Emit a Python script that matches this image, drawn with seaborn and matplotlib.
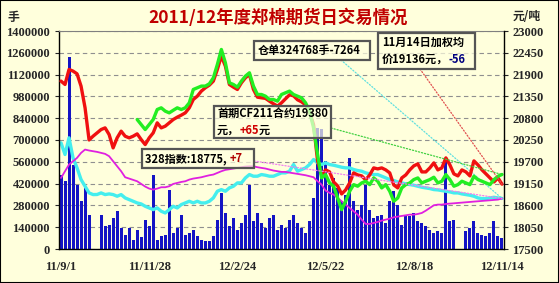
import numpy as np
import pandas as pd
import matplotlib
matplotlib.use("Agg")
import matplotlib.pyplot as plt
import seaborn as sns
from matplotlib.patches import Rectangle
from matplotlib.offsetbox import TextArea, HPacker, VPacker, AnnotationBbox

# ---------------- data ----------------
x_labels = ["11/9/1", "11/11/28", "12/2/24", "12/5/22", "12/8/18", "12/11/14"]

# daily volume (手), left axis
volume = [478, 435, 1233, 542, 414, 307, 392, 221, 0, 0,
          221, 146, 157, 199, 242, 135, 92, 135, 60, 124,
          75, 189, 146, 478, 60, 81, 92, 382, 103, 135,
          221, 92, 103, 124, 81, 60, 49, 49, 81, 189,
          360, 232, 146, 199, 124, 167, 221, 414, 178, 232,
          167, 135, 199, 221, 124, 157, 135, 189, 221, 167,
          135, 103, 178, 328, 778, 768, 564, 414, 457, 392,
          307, 349, 585, 307, 253, 285, 414, 253, 199, 210,
          221, 167, 307, 371, 285, 157, 221, 210, 232, 178,
          167, 146, 124, 103, 114, 103, 564, 178, 189, 0,
          0, 118, 135, 178, 103, 92, 81, 103, 178, 81, 71]
volume = [v * 1000 for v in volume]

# warehouse receipts (仓单, 手), left axis
warrant = [681.8, 606.8, 714.0, 585.3, 521.0, 446.0, 403.0, 360.2, 349.5, 350.0,
           360.2, 349.5, 353.8, 349.5, 338.8, 349.5, 328.0, 317.3, 306.6, 295.9,
           289.4, 274.4, 263.7, 253.0, 263.7, 242.3, 231.6, 253.0, 274.4, 263.7,
           285.2, 295.9, 306.6, 295.9, 306.6, 295.9, 295.9, 306.6, 328.0, 370.9,
           381.6, 370.9, 392.4, 403.0, 424.5, 424.5, 456.7, 478.1, 467.4, 467.4,
           478.1, 473.8, 467.4, 467.4, 478.1, 488.8, 488.8, 499.6, 542.4, 499.6,
           510.3, 521.0, 542.4, 574.6, 553.2, 542.4, 553.2, 542.4, 538.0, 531.7,
           525.3, 521.0, 521.0, 510.3, 503.8, 499.6, 488.8, 482.4, 478.1, 478.1,
           467.4, 456.7, 446.0, 439.5, 431.0, 424.5, 418.1, 413.8, 409.5, 403.0,
           396.6, 392.4, 388.1, 381.6, 379.5, 375.2, 370.9, 366.6, 360.2, 360.2,
           353.8, 349.5, 345.2, 338.8, 328.0, 323.7, 323.7, 328.0, 332.3, 328.0, 324.768]
warrant = [v * 1000 for v in warrant]

# weighted average price (元/吨), right axis
avg_price = [21736, 21651, 22030, 21988, 21920, 21609, 21062, 20250, 20346, 20430,
             20514, 20556, 20388, 20051, 20304, 20473, 20346, 20304, 20346, 20405,
             20261, 20135, 20304, 20430, 20683, 20556, 20599, 20683, 20767, 20826,
             20877, 20935, 21062, 21272, 21356, 21483, 21567, 21634, 21736, 22030,
             22367, 22114, 21651, 21584, 21525, 21693, 21819, 21903, 21525, 21331,
             21314, 21300, 21230, 21163, 21104, 21188, 21289, 21390, 21365, 21264,
             21213, 21137, 20961, 20632, 19723, 19369, 19496, 19445, 19192, 19091,
             18889, 18990, 19167, 19420, 19369, 19344, 19243, 19369, 19546, 19521,
             19546, 19496, 19420, 19117, 19041, 19293, 19369, 19496, 19597, 19647,
             19445, 19445, 19546, 19672, 19496, 19546, 19799, 19622, 19395, 19344,
             19496, 19445, 19344, 19723, 19622, 19496, 19395, 19293, 19192, 19293, 19136]

# main contract price (首期), right axis
main_price = [None] * 19 + [
             20767, 20640, 20514, 20640, 20767, 21019, 21062, 20978, 20935, 21000, 21062,
             21019, 21062, 21188, 21525, 21567, 21610, 21610, 21668, 21819, 22155,
             22534, 22198, 21693, 21651, 21584, 21736, 21862, 21946, 21610, 21398,
             21398, 21356, 21272, 21272, 21230, 21398, 21441, 21483, 21398, 21356,
             21314, 21188, 20978, 20556, 19882, 19293, 19377, 19167, 19084, 18788,
             18493, 18705, 18957, 19124, 19084, 19167, 19210, 19124, 19293, 19210,
             19041, 19124, 18957, 18705, 18788, 19041, 19124, 19167, 19251, 19293,
             19167, 19210, 19251, 19311, 19167, 19210, 19377, 19251, 19084, 19124,
             19210, 19167, 19124, 19336, 19251, 19210, 19167, 19124, 19251, 19336, 19380]

# 328 index, right axis
index328 = [19293, 19462, 19630, 19714, 19799, 19925, 20009, 19985, 19967, 19950,
            19925, 19900, 19841, 19714, 19588, 19462, 19310, 19277, 19243, 19209,
            19142, 19075, 19024, 18999, 19024, 19058, 19058, 19083, 19142, 19167,
            19192, 19209, 19251, 19277, 19293, 19310, 19336, 19360, 19378, 19420,
            19462, 19496, 19512, 19530, 19546, 19563, 19580, 19588, 19588, 19563,
            19546, 19530, 19504, 19479, 19462, 19445, 19445, 19428, 19411, 19395,
            19378, 19361, 19336, 19310, 19209, 19125, 18974, 18915, 18872, 18788,
            18704, 18620, 18536, 18451, 18367, 18241, 18132, 18132, 18157, 18182,
            18216, 18241, 18266, 18300, 18317, 18334, 18350, 18367, 18367, 18384,
            18409, 18468, 18536, 18603, 18620, 18620, 18637, 18645, 18653, 18662,
            18670, 18679, 18687, 18696, 18704, 18713, 18721, 18729, 18738, 18746, 18775]

n = len(volume)
df = pd.DataFrame({
    "idx": np.arange(n),
    "volume": volume,
    "warrant": warrant,
    "avg_price": avg_price,
    "main_price": pd.to_numeric(pd.Series(main_price), errors="coerce"),
    "index328": index328,
})

# ---------------- style ----------------
W, H = 559, 283
BG = "#FFFFDC"
BLUE = "#1414C4"
RED = "#F01010"
GREEN = "#22EE22"
CYAN = "#44EEEE"
MAGENTA = "#E020E0"
CJK = ["Noto Sans CJK SC", "DejaVu Sans"]
NUMFONT = "Liberation Serif"

sns.set_style("white")
plt.rcParams["font.family"] = CJK


def px(x, y):
    return (x / W, 1 - y / H)


fig = plt.figure(figsize=(W / 100, H / 100), dpi=100, facecolor=BG)
ax = fig.add_axes([59 / W, 1 - 249 / H, 445 / W, 218 / H])
ax.set_facecolor(BG)

sns.barplot(data=df, x="idx", y="volume", ax=ax, color=BLUE, saturation=1,
            width=0.75, native_scale=True, errorbar=None, linewidth=0)
sns.lineplot(data=df, x="idx", y="warrant", ax=ax, color=CYAN, linewidth=2.4)

ax2 = ax.twinx()
sns.lineplot(data=df, x="idx", y="index328", ax=ax2, color=MAGENTA, linewidth=1.3)
sns.lineplot(data=df, x="idx", y="avg_price", ax=ax2, color=RED, linewidth=2.4)
sns.lineplot(data=df, x="idx", y="main_price", ax=ax2, color=GREEN, linewidth=2.4)

ax.set_xlim(-0.5, n - 0.5)
ax.set_ylim(0, 1400000)
ax2.set_ylim(17500, 23000)

lt = list(range(0, 1400001, 140000))
ax.set_yticks(lt, labels=[str(v) for v in lt], fontfamily=NUMFONT,
              fontweight="bold", fontsize=9)
rt = list(range(17500, 23001, 550))
ax2.set_yticks(rt, labels=[str(v) for v in rt], fontfamily=NUMFONT,
               fontweight="bold", fontsize=9)
xt = list(np.linspace(0, n - 1, len(x_labels)))
ax.set_xticks(xt, labels=x_labels, fontfamily=NUMFONT, fontweight="bold",
              fontsize=9)

ax.tick_params(axis="x", length=0, pad=9)
ax.tick_params(axis="y", direction="out", length=3, width=0.8, pad=3.5)
ax2.tick_params(axis="y", direction="out", length=3, width=0.8, pad=3)
for a in (ax, ax2):
    a.set_xlabel("")
    a.set_ylabel("")

ax.yaxis.grid(True, color="#8f8f8f", linestyle=(0, (4, 3)), linewidth=0.8)
ax.xaxis.grid(False)
ax.set_axisbelow(True)
ax2.grid(False)

for s in ("left", "bottom"):
    ax.spines[s].set_color("black")
    ax.spines[s].set_linewidth(1.0)
ax.spines["top"].set_color("#808080")
ax.spines["right"].set_visible(False)
for s in ("left", "top", "bottom"):
    ax2.spines[s].set_visible(False)
ax2.spines["right"].set_color("black")
ax2.spines["right"].set_linewidth(1.0)

# ---------------- titles ----------------
fig.text(*px(278, 18), "2011/12年度郑棉期货日交易情况", ha="center", va="center",
         fontsize=12.5, fontweight="bold", color="#C00000", family=CJK)
fig.text(*px(13, 17), "手", ha="center", va="center", fontsize=8.5,
         fontweight="bold", family=CJK)
fig.text(*px(527, 16), "元/吨", ha="center", va="center", fontsize=8.5,
         fontweight="bold", family=CJK)

# ---------------- leader lines ----------------
last = n - 1
def leader(axis, yval, start, color):
    axis.annotate("", xy=(last, yval), xycoords="data", xytext=px(*start),
                  textcoords="figure fraction",
                  arrowprops=dict(arrowstyle="-", linestyle=(0, (1, 1.5)),
                                  color=color, lw=0.9, shrinkA=0, shrinkB=0))

leader(ax, warrant[-1], (341, 60), "#60E0E0")
leader(ax2, main_price[-1], (331, 128), "#40D040")
leader(ax2, avg_price[-1], (420, 69), "#E05050")
leader(ax2, index328[-1], (254, 161), "#F080F0")

# ---------------- annotation boxes ----------------
def draw_box(x0, y0, x1, y1):
    fig.add_artist(Rectangle(px(x0, y1), (x1 - x0) / W, (y1 - y0) / H,
                             transform=fig.transFigure,
                             facecolor=(1, 1, 0.88, 0.7), edgecolor="#555555",
                             lw=1.6, zorder=10))


def tarea(s, color="black"):
    return TextArea(s, textprops=dict(fontsize=8, fontweight="bold", color=color,
                                      family=CJK))


def place(lines, x, y):
    rows = [HPacker(children=[tarea(s, c) for s, c in line], align="baseline",
                    pad=0, sep=0) for line in lines]
    box = VPacker(children=rows, align="left", pad=0, sep=3)
    ab = AnnotationBbox(box, px(x, y), xycoords="figure fraction",
                        box_alignment=(0, 0.5), frameon=False, zorder=11)
    fig.add_artist(ab)


draw_box(254, 41, 370, 60)
place([[("仓单324768手-7264", "black")]], 258, 50.5)

draw_box(378, 33, 475, 69)
place([[("11月14日加权均", "black")],
       [("价19136元，", "black"), ("-56", "#000080")]], 382, 51)

draw_box(214, 106, 331, 138)
place([[("首期CF211合约19380", "black")],
       [("元，", "black"), ("+65", "#D00000"), ("元", "black")]], 217, 122)

draw_box(142, 149, 254, 168)
place([[("328指数:18775, ", "black"), ("+7", "#B00000")]], 145, 158.5)

fig.add_artist(Rectangle((0, 0), 1, 1, transform=fig.transFigure, fill=False,
                         edgecolor="black", lw=1.5, zorder=20))

fig.savefig("out.png", dpi=100, facecolor=BG)
